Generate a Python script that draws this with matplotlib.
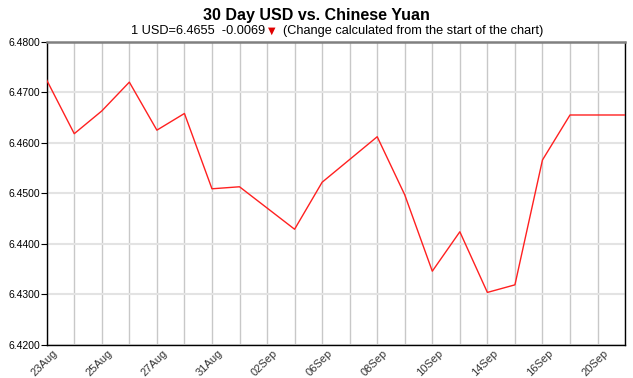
import matplotlib
matplotlib.use("Agg")
import matplotlib.pyplot as plt
import matplotlib.transforms as mtransforms
from matplotlib.offsetbox import TextArea, HPacker, AnchoredOffsetbox

# USD -> CNY, 30 day chart
dates = ["23Aug", "24Aug", "25Aug", "26Aug", "27Aug", "30Aug", "31Aug", "01Sep",
         "02Sep", "03Sep", "06Sep", "07Sep", "08Sep", "09Sep", "10Sep", "13Sep",
         "14Sep", "15Sep", "16Sep", "17Sep", "20Sep", "21Sep"]
rates = [6.4724, 6.4618, 6.4663, 6.4720, 6.4625, 6.4658, 6.4509, 6.4513,
         6.4471, 6.4429, 6.4522, 6.4567, 6.4612, 6.4497, 6.4346, 6.4424,
         6.4304, 6.4319, 6.4566, 6.4655, 6.4655, 6.4655]
shown_labels = ["23Aug", "25Aug", "27Aug", "31Aug", "02Sep", "06Sep",
                "08Sep", "10Sep", "14Sep", "16Sep", "20Sep"]
y_ticks = [6.42, 6.43, 6.44, 6.45, 6.46, 6.47, 6.48]

plt.rcParams['font.family'] = ['Liberation Sans', 'DejaVu Sans']

fig = plt.figure(figsize=(6.33, 3.78), dpi=100)
ax = fig.add_axes([0.0738, 0.0873, 0.9137, 0.8024])

xs = list(range(len(dates)))
ax.plot(xs, rates, color="#ff2020", lw=1.0, zorder=3)

ax.set_xlim(0, len(dates) - 1)
ax.set_ylim(6.42, 6.48)

ax.set_yticks(y_ticks)
ax.set_yticklabels([f"{v:.4f}" for v in y_ticks], fontsize=7.5)
ax.set_xticks(xs)
ax.set_xticklabels([])

# rotated date labels, nudged right of their grid line like the original
shift = mtransforms.ScaledTranslation(9 / 100, -7 / 100, fig.dpi_scale_trans)
lbl_trans = ax.get_xaxis_transform() + shift
for x, d in zip(xs, dates):
    if d in shown_labels:
        ax.text(x, 0, d, transform=lbl_trans, rotation=45, ha="right", va="center",
                rotation_mode="anchor", fontsize=8, color="#333333", clip_on=False)

ax.grid(axis="x", color="#c8c8c8", lw=1.0)
ax.grid(axis="y", color="#e3e3e3", lw=1.5)
ax.set_axisbelow(True)
ax.tick_params(axis="y", length=4, width=0.8, pad=1)
ax.tick_params(axis="x", length=0, pad=3)

for side in ["left", "bottom", "right"]:
    ax.spines[side].set_color("black")
    ax.spines[side].set_linewidth(1.0)
ax.spines["top"].set_color("#808080")
ax.spines["top"].set_linewidth(1.8)

fig.text(0.5, 0.958, "30 Day USD vs. Chinese Yuan", ha="center", va="center",
         fontsize=11.5, fontweight="bold")

parts = [
    TextArea("1 USD=6.4655  -0.0069 ", textprops=dict(fontsize=9.2)),
    TextArea("\u25bc", textprops=dict(fontsize=7, color="#e00000", family="DejaVu Sans")),
    TextArea("  (Change calculated from the start of the chart)", textprops=dict(fontsize=9.2)),
]
box = HPacker(children=parts, align="center", pad=0, sep=0)
anchored = AnchoredOffsetbox(loc="center", child=box, frameon=False,
                             bbox_to_anchor=(0.532, 0.918), bbox_transform=fig.transFigure,
                             borderpad=0, pad=0)
fig.add_artist(anchored)

fig.savefig("out.png", dpi=100)
